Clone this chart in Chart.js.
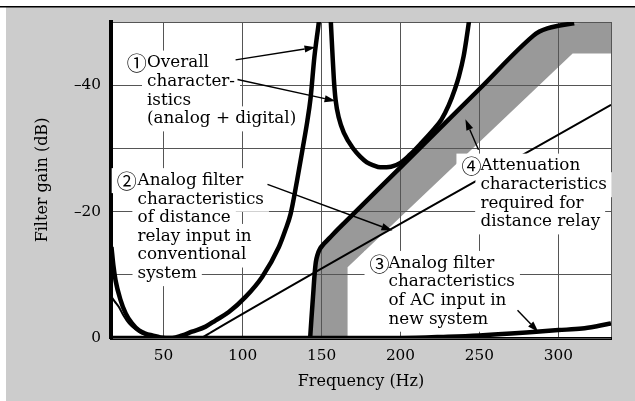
<!DOCTYPE html>
<html>
<head>
<meta charset="utf-8">
<script src="https://cdn.jsdelivr.net/npm/chart.js@4.4.1/dist/chart.umd.min.js"></script>
<style>
  html, body { margin: 0; padding: 0; background: #fff; }
  #wrap { width: 635px; height: 401px; }
</style>
</head>
<body>
<div id="wrap"><canvas id="c" width="635" height="401"></canvas></div>
<script>
// Axes
const freqMin = 16.7, freqMax = 333.3;
const freqTicks = [50, 100, 150, 200, 250, 300];
const gainMin = -50, gainMax = 0;
const gainTicks = [-50, -40, -30, -20, -10, 0];
const gainLabels = { '-40': '–40', '-20': '–20', '0': '0' };

// ① Overall characteristics (analog + digital): low-frequency pass lobe
const overallLowHz = [17, 18.2, 19.6, 22.5, 26, 30, 34.4, 38.5, 42.9, 48, 55.5, 61.8, 68, 76.6, 83, 91.3, 101.9, 112.5, 123, 127, 130.4, 134.5, 138, 141, 143, 145.5, 147, 148.3, 149];
const overallLowDb = [-14.4, -11.5, -9.1, -6.2, -3.9, -2.3, -1.2, -0.7, -0.4, -0.1, 0, -0.4, -1.0, -1.8, -2.8, -4.1, -6.5, -9.7, -14.4, -17.0, -19.6, -24.9, -29.9, -34.3, -37.8, -44.5, -47.5, -50, -52];

// ① Overall characteristics: lobe between the two notches
const overallMidHz = [155.5, 156.1, 156.8, 157.8, 158.9, 161, 164.1, 170.3, 174.5, 178.7, 183, 187.2, 194, 200, 206, 213, 221, 226, 230.5, 234.5, 237, 240, 242, 243.2, 243.8];
const overallMidDb = [-52, -49, -45.6, -41, -37.7, -34.8, -32.5, -29.9, -28.7, -27.8, -27.3, -27.0, -27.1, -27.7, -29.0, -30.8, -33.0, -34.6, -36.8, -39.4, -41.4, -44.6, -47.7, -49.8, -51];

// ④ Required attenuation: edge of the region
const requiredEdgeHz = [142.8, 143.6, 144.6, 145.6, 146.4, 147.5, 149, 151.5, 155, 160, 164, 200, 250, 284, 288, 293, 300, 310];
const requiredEdgeDb = [0, -3, -6.5, -10, -12, -13.2, -14.1, -14.9, -15.8, -17.1, -18.1, -27.0, -39.4, -47.8, -48.5, -49.0, -49.4, -49.8];

// ④ Required attenuation: lower boundary of the margin band
const bandLowerHz = [166.5, 166.5, 309, 333.3, 333.3];
const bandLowerDb = [0, -11.2, -45, -45, -50];

// ② Analog filter of distance relay input, conventional system
const conventionalHz = [17, 19, 21.7, 24.5, 28, 32, 36.5, 41, 46, 60, 72, 73.4, 76, 80, 333.3];
const conventionalDb = [-6.5, -5.8, -4.9, -3.6, -2.3, -1.4, -0.7, -0.25, 0, 0, 0, 0, -0.3, -0.9, -36.9];

// ③ Analog filter of AC input, new system
const newSystemHz = [16.7, 200, 230, 250, 270, 286, 300, 315, 325, 333.3];
const newSystemDb = [0, 0, -0.2, -0.4, -0.7, -1.0, -1.25, -1.5, -1.9, -2.3];

// Callout texts, anchored in data units
const labelBlocks = [
  { mark: '①', markHz: 26.6, textHz: 39.5, firstDb: -43.5,
    lines: ['Overall', 'character-', 'istics', '(analog + digital)'] },
  { mark: '②', markHz: 20.3, textHz: 33.5, firstDb: -24.9,
    lines: ['Analog filter', 'characteristics', 'of distance', 'relay input in', 'conventional', 'system'] },
  { mark: '③', markHz: 180.4, textHz: 192.4, firstDb: -11.8,
    lines: ['Analog filter', 'characteristics', 'of AC input in', 'new system'] },
  { mark: '④', markHz: 238.6, textHz: 250.6, firstDb: -27.2,
    lines: ['Attenuation', 'characteristics', 'required for', 'distance relay'] }
];

const arrows = [
  { fromHz: 95.6, fromDb: -44.0, toHz: 146.2, toDb: -46.0 },
  { fromHz: 96.8, fromDb: -40.9, toHz: 158.9, toDb: -37.5 },
  { fromHz: 115.8, fromDb: -24.3, toHz: 194.9, toDb: -17.0 },
  { fromHz: 274.1, fromDb: -4.4, toHz: 287.3, toDb: -0.95 },
  { fromHz: 249.4, fromDb: -29.8, toHz: 241.1, toDb: -34.6 }
];

const toPoints = (xs, ys) => xs.map((x, i) => ({ x, y: ys[i] }));

const serif = '"DejaVu Serif", "Liberation Serif", serif';
const labelFont = '16.8px ' + serif;
const markFont = '20px "Noto Sans CJK JP", "DejaVu Sans", sans-serif';
const lineStep = 18.6;
const boxHalf = 12.5;
const boxPad = 5;

const BAND_INDEX = 5;

const curve = (data, width) => ({
  data,
  borderColor: '#000',
  borderWidth: width,
  pointRadius: 0,
  fill: false,
  cubicInterpolationMode: 'monotone',
  borderCapStyle: 'butt',
  borderJoinStyle: 'round'
});

// Panel background and plot area
const backdrop = {
  id: 'backdrop',
  beforeDraw(chart) {
    const { ctx, chartArea: a, width, height } = chart;
    ctx.save();
    ctx.fillStyle = '#ffffff';
    ctx.fillRect(0, 0, width, height);
    ctx.fillStyle = '#cccccc';
    ctx.fillRect(6, 7, width - 6, height - 7);
    ctx.fillStyle = '#000000';
    ctx.fillRect(0, 6, width, 1.5);
    ctx.fillStyle = '#ffffff';
    ctx.fillRect(a.left, a.top, a.right - a.left, a.bottom - a.top);
    ctx.restore();
  },
  // grid lines stay visible across the shaded band
  afterDatasetDraw(chart, args) {
    if (args.index !== BAND_INDEX) return;
    const ctx = chart.ctx;
    ctx.save();
    chart.scales.x.drawGrid(chart.chartArea);
    chart.scales.y.drawGrid(chart.chartArea);
    ctx.restore();
  }
};

// Callout labels with white backing and arrows
const callouts = {
  id: 'callouts',
  afterDatasetsDraw(chart) {
    const { ctx } = chart;
    const xs = chart.scales.x, ys = chart.scales.y;
    const rows = [];
    labelBlocks.forEach(b => {
      const mx = xs.getPixelForValue(b.markHz);
      const tx = xs.getPixelForValue(b.textHz);
      const y0 = ys.getPixelForValue(b.firstDb);
      b.lines.forEach((t, i) => {
        ctx.font = labelFont;
        const w = ctx.measureText(t).width;
        rows.push({ text: t, x: tx, y: y0 + i * lineStep, w, start: i === 0 ? mx : tx, mark: i === 0 ? b.mark : null, mx });
      });
    });
    ctx.save();
    ctx.fillStyle = '#ffffff';
    rows.forEach(r => {
      ctx.fillRect(r.start - boxPad, r.y - boxHalf, r.x + r.w - r.start + 2 * boxPad, 2 * boxHalf);
    });
    ctx.fillStyle = '#000000';
    ctx.textBaseline = 'middle';
    ctx.textAlign = 'left';
    rows.forEach(r => {
      ctx.font = labelFont;
      ctx.fillText(r.text, r.x, r.y);
      if (r.mark) {
        ctx.font = markFont;
        ctx.fillText(r.mark, r.mx, r.y + 0.5);
      }
    });
    ctx.strokeStyle = '#000000';
    ctx.lineWidth = 1.4;
    arrows.forEach(a => {
      const x1 = xs.getPixelForValue(a.fromHz), y1 = ys.getPixelForValue(a.fromDb);
      const x2 = xs.getPixelForValue(a.toHz), y2 = ys.getPixelForValue(a.toDb);
      const ang = Math.atan2(y2 - y1, x2 - x1);
      const len = 11, half = 3.6;
      const bx = x2 - len * Math.cos(ang), by = y2 - len * Math.sin(ang);
      ctx.beginPath();
      ctx.moveTo(x1, y1);
      ctx.lineTo(bx, by);
      ctx.stroke();
      ctx.beginPath();
      ctx.moveTo(x2, y2);
      ctx.lineTo(bx + half * Math.sin(ang), by - half * Math.cos(ang));
      ctx.lineTo(bx - half * Math.sin(ang), by + half * Math.cos(ang));
      ctx.closePath();
      ctx.fill();
    });
    ctx.restore();
  }
};

const bandPoints = toPoints(
  bandLowerHz.concat(requiredEdgeHz.slice().reverse()),
  bandLowerDb.concat(requiredEdgeDb.slice().reverse())
);

const datasets = [
  curve(toPoints(overallLowHz, overallLowDb), 4.5),
  curve(toPoints(overallMidHz, overallMidDb), 4.5),
  curve(toPoints(requiredEdgeHz, requiredEdgeDb), 4.5),
  curve(toPoints(newSystemHz, newSystemDb), 4.5),
  curve(toPoints(conventionalHz, conventionalDb), 2),
  {
    data: bandPoints,
    borderColor: 'rgba(0,0,0,0)',
    borderWidth: 0,
    backgroundColor: '#999999',
    pointRadius: 0,
    tension: 0,
    fill: 'shape',
    order: 10
  }
];

const gridStyle = { color: '#555555', lineWidth: 1, drawTicks: false };

new Chart(document.getElementById('c'), {
  type: 'line',
  data: { datasets },
  options: {
    responsive: false,
    animation: false,
    devicePixelRatio: 1,
    layout: { padding: { top: 22, right: 24, left: 0, bottom: 0 } },
    plugins: { legend: { display: false }, tooltip: { enabled: false } },
    scales: {
      x: {
        type: 'linear',
        min: freqMin,
        max: freqMax,
        afterBuildTicks: s => { s.ticks = freqTicks.concat([freqMax]).map(v => ({ value: v })); },
        afterFit: s => { s.height = 63; },
        grid: gridStyle,
        border: { display: true, color: '#000', width: 3 },
        ticks: {
          padding: 9,
          color: '#000',
          maxRotation: 0,
          autoSkip: false,
          font: { family: serif, size: 15.3 },
          callback: v => freqTicks.includes(v) ? String(v) : ''
        },
        title: {
          display: true,
          text: 'Frequency (Hz)',
          color: '#000',
          font: { family: serif, size: 16 },
          padding: { top: 0, bottom: 9.4 }
        }
      },
      y: {
        type: 'linear',
        reverse: true,
        min: gainMin,
        max: gainMax,
        afterBuildTicks: s => { s.ticks = gainTicks.map(v => ({ value: v })); },
        afterFit: s => { s.width = 111; },
        grid: gridStyle,
        border: { display: true, color: '#000', width: 4 },
        ticks: {
          padding: 10,
          color: '#000',
          autoSkip: false,
          font: { family: serif, size: 15.3 },
          callback: v => (gainLabels[String(v)] !== undefined ? gainLabels[String(v)] : '')
        },
        title: {
          display: true,
          text: 'Filter gain (dB)',
          color: '#000',
          font: { family: serif, size: 16 },
          padding: { top: 33.4, bottom: 0 }
        }
      }
    }
  },
  plugins: [backdrop, callouts]
});
</script>
</body>
</html>
